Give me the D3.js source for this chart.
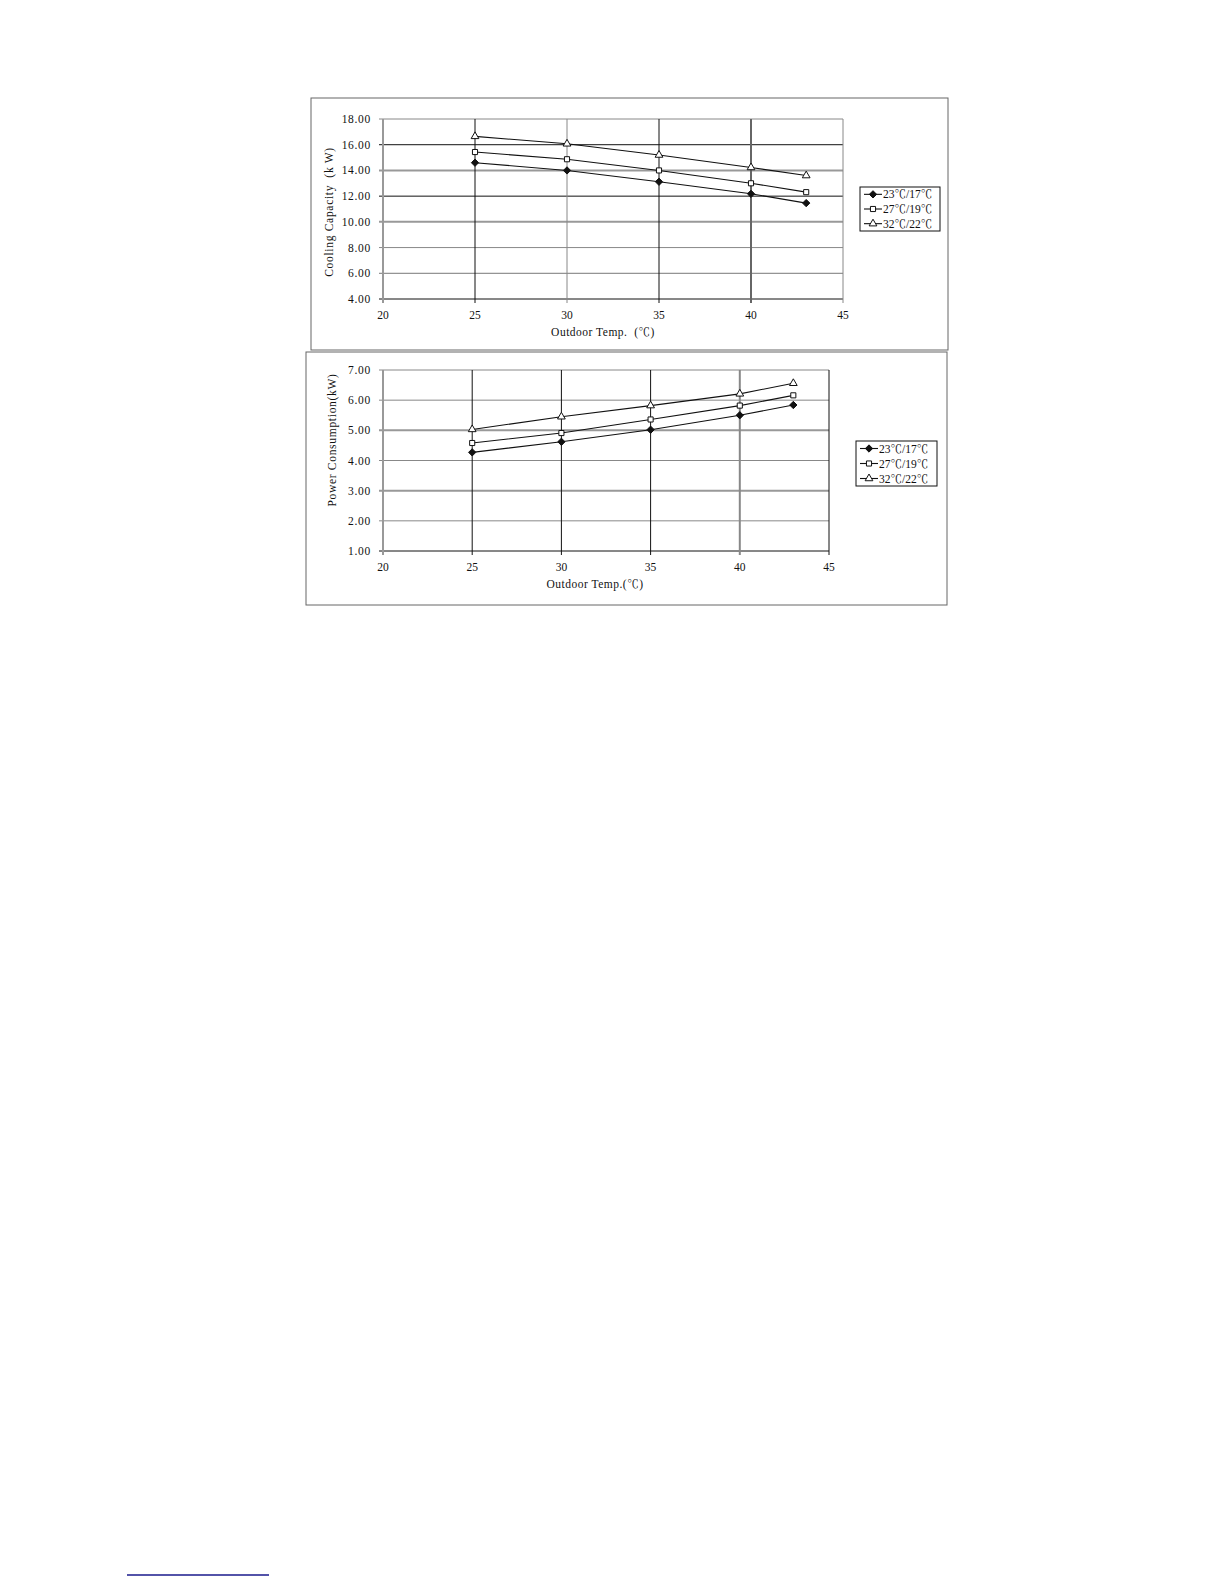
<!DOCTYPE html>
<html>
<head>
<meta charset="utf-8">
<script src="https://cdn.jsdelivr.net/npm/d3@7"></script>
<style>
  html, body { margin: 0; padding: 0; background: #fff; }
  svg text { font-family: "Liberation Serif", "Noto Serif CJK SC", "Noto Sans CJK SC", serif; fill: #111; }
</style>
</head>
<body>
<svg id="page" width="1224" height="1584"></svg>
<script>
// Outdoor temperature points
const temps = [25, 30, 35, 40, 43];
const seriesNames = ["23℃/17℃", "27℃/19℃", "32℃/22℃"];

// Cooling capacity (kW) by indoor condition
const capacity23 = [14.6, 14.0, 13.12, 12.18, 11.46];
const capacity27 = [15.43, 14.87, 14.0, 13.0, 12.31];
const capacity32 = [16.65, 16.07, 15.2, 14.23, 13.6];

// Power consumption (kW) by indoor condition
const power23 = [4.27, 4.62, 5.02, 5.5, 5.84];
const power27 = [4.58, 4.91, 5.36, 5.82, 6.16];
const power32 = [5.03, 5.45, 5.82, 6.21, 6.56];

// Tick labels
const tempTicks = [20, 25, 30, 35, 40, 45];
const capacityTicks = [4, 6, 8, 10, 12, 14, 16, 18];
const powerTicks = [1, 2, 3, 4, 5, 6, 7];

// marker per series: filled diamond, open square, open triangle
const markers = [
    {type: d3.symbolDiamond2, size: 34, fill: "#111"},
    {type: d3.symbolSquare, size: 26, fill: "#fff"},
    {type: d3.symbolTriangle, size: 26, fill: "#fff"}
];

const svg = d3.select("#page");

function drawChart(cfg) {
    const g = svg.append("g");

    // outer frame
    g.append("rect")
        .attr("x", cfg.frame[0]).attr("y", cfg.frame[1])
        .attr("width", cfg.frame[2] - cfg.frame[0])
        .attr("height", cfg.frame[3] - cfg.frame[1])
        .attr("fill", "none").attr("stroke", "#666").attr("stroke-width", 1);

    const x = d3.scaleLinear().domain([20, 45]).range([cfg.plot[0], cfg.plot[2]]);
    const y = d3.scaleLinear().domain(cfg.yDomain).range([cfg.plot[3], cfg.plot[1]]);

    // horizontal grid
    g.append("g").selectAll("line")
        .data(cfg.yTicks)
        .join("line")
        .attr("x1", cfg.plot[0] - 4).attr("x2", cfg.plot[2])
        .attr("y1", d => y(d)).attr("y2", d => y(d))
        .attr("stroke", (d, i) => cfg.hGrid[i][0])
        .attr("stroke-width", (d, i) => cfg.hGrid[i][1]);

    // vertical grid
    g.append("g").selectAll("line")
        .data(tempTicks)
        .join("line")
        .attr("x1", d => x(d)).attr("x2", d => x(d))
        .attr("y1", cfg.plot[1]).attr("y2", cfg.plot[3] + 4)
        .attr("stroke", (d, i) => cfg.vGrid[i][0])
        .attr("stroke-width", (d, i) => cfg.vGrid[i][1]);

    // y tick labels
    g.append("g").selectAll("text")
        .data(cfg.yTicks)
        .join("text")
        .attr("x", cfg.plot[0] - 12)
        .attr("y", d => y(d) + 4)
        .attr("text-anchor", "end")
        .attr("font-size", 11.5)
        .attr("letter-spacing", 0.7)
        .text(d => d3.format(".2f")(d));

    // x tick labels
    g.append("g").selectAll("text")
        .data(tempTicks)
        .join("text")
        .attr("x", d => x(d))
        .attr("y", cfg.plot[3] + 20)
        .attr("text-anchor", "middle")
        .attr("font-size", 11.5)
        .text(d => d);

    // axis titles
    g.append("text")
        .attr("x", cfg.xTitlePos[0]).attr("y", cfg.xTitlePos[1])
        .attr("text-anchor", "middle").attr("font-size", 11.5)
        .attr("letter-spacing", 0.5)
        .attr("xml:space", "preserve")
        .text(cfg.xTitle);

    g.append("text")
        .attr("transform", `translate(${cfg.yTitlePos[0]},${cfg.yTitlePos[1]}) rotate(-90)`)
        .attr("text-anchor", "middle").attr("font-size", 11.5)
        .attr("letter-spacing", 0.7)
        .attr("xml:space", "preserve")
        .text(cfg.yTitle);

    // series lines and markers
    const line = d3.line().x((d, i) => x(temps[i])).y(d => y(d));
    cfg.series.forEach((vals, s) => {
        g.append("path")
            .attr("d", line(vals))
            .attr("fill", "none").attr("stroke", "#111").attr("stroke-width", 1.1);
        g.append("g").selectAll("path")
            .data(vals)
            .join("path")
            .attr("transform", (d, i) => `translate(${x(temps[i])},${y(d)})`)
            .attr("d", d3.symbol(markers[s].type, markers[s].size))
            .attr("fill", markers[s].fill)
            .attr("stroke", "#111").attr("stroke-width", 1);
    });

    // legend
    const lg = g.append("g");
    const [lx0, ly0, lx1, ly1] = cfg.legend;
    lg.append("rect")
        .attr("x", lx0).attr("y", ly0)
        .attr("width", lx1 - lx0).attr("height", ly1 - ly0)
        .attr("fill", "#fff").attr("stroke", "#111").attr("stroke-width", 1);
    const rowH = (ly1 - ly0) / seriesNames.length;
    seriesNames.forEach((name, s) => {
        const cy = ly0 + rowH * (s + 0.5);
        lg.append("line")
            .attr("x1", lx0 + 4).attr("x2", lx0 + 22)
            .attr("y1", cy).attr("y2", cy)
            .attr("stroke", "#111").attr("stroke-width", 1.1);
        lg.append("path")
            .attr("transform", `translate(${lx0 + 13},${cy})`)
            .attr("d", d3.symbol(markers[s].type, markers[s].size))
            .attr("fill", markers[s].fill)
            .attr("stroke", "#111").attr("stroke-width", 1);
        lg.append("text")
            .attr("x", lx0 + 23).attr("y", cy + 4)
            .attr("font-size", 11.5)
            .text(name);
    });
}

drawChart({
    frame: [311, 98, 948, 350],
    plot: [383, 119, 843, 299],
    yDomain: [4, 18],
    yTicks: capacityTicks,
    hGrid: [["#111", 1], ["#777", 1], ["#888", 1], ["#999", 2], ["#111", 1], ["#999", 2], ["#111", 1], ["#888", 1]],
    vGrid: [["#999", 2], ["#111", 1], ["#888", 1], ["#111", 1], ["#666", 2], ["#888", 1]],
    series: [capacity23, capacity27, capacity32],
    legend: [860, 187, 940, 231],
    xTitle: "Outdoor Temp.  (℃)",
    xTitlePos: [603, 336],
    yTitle: "Cooling Capacity  (k W)",
    yTitlePos: [333, 212]
});

drawChart({
    frame: [306, 352, 947, 605],
    plot: [383, 370, 829, 551],
    yDomain: [1, 7],
    yTicks: powerTicks,
    hGrid: [["#111", 1], ["#888", 1], ["#999", 2], ["#888", 1], ["#999", 2], ["#888", 1], ["#888", 1]],
    vGrid: [["#999", 2], ["#111", 1], ["#111", 1], ["#111", 1], ["#888", 2], ["#111", 1]],
    series: [power23, power27, power32],
    legend: [856, 441, 937, 486],
    xTitle: "Outdoor Temp.(℃)",
    xTitlePos: [595, 588],
    yTitle: "Power Consumption(kW)",
    yTitlePos: [336, 440]
});

// footnote rule at page bottom
svg.append("line")
    .attr("x1", 127).attr("x2", 269)
    .attr("y1", 1575).attr("y2", 1575)
    .attr("stroke", "#1a1a8c").attr("stroke-width", 1.5);
</script>
</body>
</html>
